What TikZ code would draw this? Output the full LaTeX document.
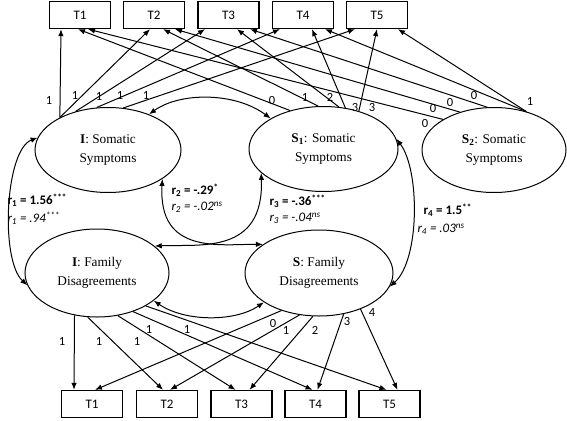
\documentclass[tikz,border=0pt]{standalone}
\usepackage{fontspec}
\setmainfont{Liberation Serif}
\newfontfamily\lblfont{Carlito}
\usetikzlibrary{shapes.geometric,arrows.meta}

\begin{document}
\begin{tikzpicture}[>={Latex[length=7pt,width=5.5pt]}, x=1pt, y=-1pt, line width=1pt,
  obs/.style={draw, line width=1.3pt, minimum width=61, minimum height=27, inner sep=0, font=\lblfont\fontsize{13}{15}\selectfont},
  lat/.style={ellipse, draw, inner sep=0, align=center, minimum width=146, minimum height=85, font=\fontsize{13.3}{19}\selectfont},
  ld/.style={font=\lblfont\fontsize{12.5}{14}\selectfont, inner sep=0},
  rb/.style={font=\lblfont\bfseries\fontsize{13}{15}\selectfont, anchor=west, inner sep=0},
  ri/.style={font=\lblfont\itshape\fontsize{13}{15}\selectfont, anchor=west, inner sep=0}]
\useasboundingbox (0,0) rectangle (567,420);
% somatic occasions
\node (st1) at (80,15)[obs]{T1};
\node (st2) at (154,15)[obs]{T2};
\node (st3) at (228.5,15)[obs]{T3};
\node (st4) at (303,15)[obs]{T4};
\node (st5) at (377,15)[obs]{T5};
% family occasions
\node (ft1) at (92,404)[obs]{T1};
\node (ft2) at (167,404)[obs]{T2};
\node (ft3) at (241.5,404)[obs]{T3};
\node (ft4) at (315.5,404)[obs]{T4};
\node (ft5) at (389.5,404)[obs]{T5};
% growth factors
\node (iSom) at (108,150)[lat]{\textbf{I}: Somatic\\Symptoms};
\node (s1Som) at (323.5,149)[lat, minimum width=149]{\textbf{S\textsubscript{1}}: Somatic\\Symptoms};
\node (s2Som) at (494,150)[lat, minimum width=144]{\textbf{S\textsubscript{2}}: Somatic\\Symptoms};
\node (iFam) at (97,273)[lat, minimum width=144, minimum height=88]{\textbf{I}: Family\\Disagreements};
\node (sFam) at (319,273)[lat, minimum width=148, minimum height=86]{\textbf{S}: Family\\Disagreements};

% somatic loadings
\draw[->] (iSom.146)--([xshift=-19]st1.south);
\draw[->] (iSom.146)--([xshift=-4]st2.south);
\draw[->] (iSom.130)--([xshift=-23.5]st3.south);
\draw[->] (iSom.105)--([xshift=-23]st4.south);
\draw[->] (iSom.70)--([xshift=-22]st5.south);
\draw[->] (s1Som.131)--([xshift=-2]st1.south);
\draw[->] (s1Som.97)--([xshift=9]st2.south);
\draw[->] (s1Som.70)--([xshift=8.5]st3.south);
\draw[->] (s1Som.62)--([xshift=9]st4.south);
\draw[->] (s1Som.47)--(st5.south);
\draw[->] (s2Som.149)--([xshift=8]st1.south);
\draw[->] (s2Som.132)--([xshift=21]st2.south);
\draw[->] (s2Som.99)--([xshift=21.5]st3.south);
\draw[->] (s2Som.50)--([xshift=22]st4.south);
\draw[->] (s2Som.50)--([xshift=21]st5.south);
\node (li1) at (49,100)[ld]{1};\node (li2) at (75,95)[ld]{1};
\node (li3) at (99,96)[ld]{1};\node (li4) at (120,95)[ld]{1};
\node (li5) at (146,95)[ld]{1};
\node (la1) at (272,100)[ld]{0};\node (la2) at (305,97)[ld]{1};
\node (la3) at (330,97)[ld]{2};\node (la4) at (355,107)[ld]{3};
\node (la5) at (372,107)[ld]{3};
\node (lb1) at (425,123)[ld]{0};\node (lb2) at (433,108)[ld]{0};
\node (lb3) at (450,102)[ld]{0};\node (lb4) at (474,95)[ld]{0};
\node (lb5) at (530,101)[ld]{1};

% family loadings
\draw[->] (iFam.242)--([xshift=-18]ft1.north);
\draw[->] (iFam.258)--([xshift=-4]ft2.north);
\draw[->] (iFam.296)--([xshift=-6]ft3.north);
\draw[->] (iFam.313)--([xshift=-3]ft4.north);
\draw[->] (iFam.326)--([xshift=-3]ft5.north);
\draw[->] (sFam.225)--([xshift=3]ft1.north);
\draw[->] (sFam.245)--([xshift=3]ft2.north);
\draw[->] (sFam.262)--([xshift=8]ft3.north);
\draw[->] (sFam.301)--([xshift=2]ft4.north);
\draw[->] (sFam.319)--([xshift=8]ft5.north);
\node (lf1) at (62,341)[ld]{1};\node (lf2) at (99,341)[ld]{1};
\node (lf3) at (137,341)[ld]{1};\node (lf4) at (149,329)[ld]{1};
\node (lf5) at (187,329)[ld]{1};
\node (lg1) at (273,323)[ld]{0};\node (lg2) at (286,330)[ld]{1};
\node (lg3) at (315,330)[ld]{2};\node (lg4) at (347,321)[ld]{3};
\node (lg5) at (372,312)[ld]{4};

% covariances
\draw[<->] (iSom.41) .. controls (180,92) and (235,92) .. (s1Som.150);
\draw[<->] (iFam.-26) .. controls (185,322) and (235,322) .. (sFam.208);
\draw[<->] (iSom.170) .. controls (5,150) and (0,260) .. (iFam.190);
\draw[<->] (s1Som.8) .. controls (420,170) and (420,260) .. (sFam.-11);
\draw[<->] (iSom.-28) .. controls (158,255) and (220,244) .. (sFam.153);
\draw[<->] (s1Som.201) .. controls (264,255) and (200,244) .. (iFam.25);

\node (r1a) at (7,200)[rb]{r\textsubscript{1} = 1.56\textsuperscript{***}};
\node (r1b) at (7,218)[ri]{r\textsubscript{1} = .94\textsuperscript{***}};
\node (r2a) at (171,190)[rb]{r\textsubscript{2} = -.29\textsuperscript{*}};
\node (r2b) at (171,207)[ri]{r\textsubscript{2} = -.02\textsuperscript{ns}};
\node (r3a) at (269,201)[rb]{r\textsubscript{3} = -.36\textsuperscript{***}};
\node (r3b) at (269,218)[ri]{r\textsubscript{3} = -.04\textsuperscript{ns}};
\node (r4a) at (423,210)[rb]{r\textsubscript{4} = 1.5\textsuperscript{**}};
\node (r4b) at (417,229)[ri]{r\textsubscript{4} = .03\textsuperscript{ns}};

\end{tikzpicture}
\end{document}
